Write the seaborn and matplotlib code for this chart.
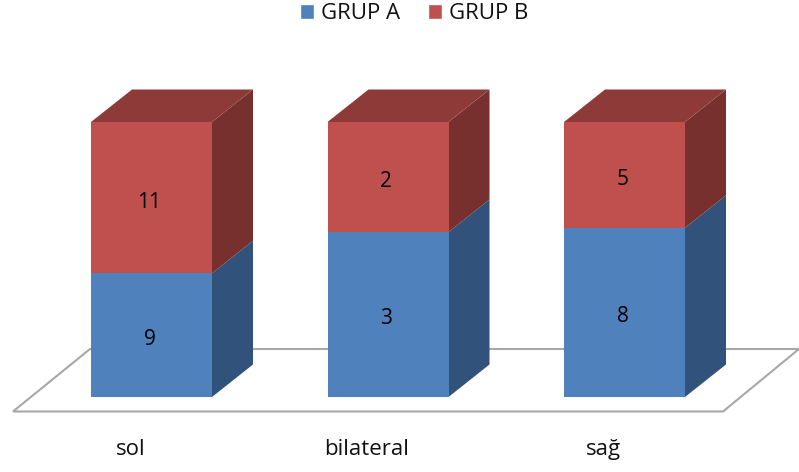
import matplotlib
matplotlib.use("Agg")
import matplotlib.pyplot as plt
from matplotlib.patches import Polygon, Patch
import numpy as np
import seaborn as sns

categories = ["sol", "bilateral", "sağ"]
grup_a = [9, 3, 8]
grup_b = [11, 2, 5]

BLUE, BLUE_SIDE = "#4F81BD", "#31527A"
RED, RED_SIDE, RED_TOP = "#C0504D", "#77302E", "#8E3A38"
FLOOR = "#A8A8A8"

sns.set_theme(style="white")
plt.rcParams["font.family"] = ["Open Sans", "DejaVu Sans"]

W, H = 799, 472
fig = plt.figure(figsize=(W / 100, H / 100), dpi=100)
ax = fig.add_axes([0, 0, 1, 1])

a = np.array(grup_a, dtype=float)
b = np.array(grup_b, dtype=float)
share_a = a / (a + b)
full = np.ones_like(share_a)

# Scale: one category step is 236.5 px, the full 100% column is 275 px
step, unit = 236.5, 275.0
bar_w = 121 / step
dx, dy = 41 / step, 32.5 / unit

# Stacked columns: the full column in red, the group A share over it
sns.barplot(x=categories, y=full, color=RED, saturation=1, width=bar_w, ax=ax,
            zorder=3, linewidth=0, edgecolor="none")
sns.barplot(x=categories, y=share_a, color=BLUE, saturation=1, width=bar_w, ax=ax,
            zorder=4, linewidth=0, edgecolor="none")

ax.set_xlim(-151.5 / step, (W - 151.5) / step)
ax.set_ylim(-(H - 397) / unit, 397 / unit)

label_drop = 4.5 / unit

# Receding side and top faces of each column
for i, s in enumerate(share_a):
    r = i + bar_w / 2
    l = i - bar_w / 2
    ax.add_patch(Polygon([(r, 0), (r + dx, dy), (r + dx, s + dy), (r, s)],
                         fc=BLUE_SIDE, ec="none", zorder=2))
    ax.add_patch(Polygon([(r, s), (r + dx, s + dy), (r + dx, 1 + dy), (r, 1)],
                         fc=RED_SIDE, ec="none", zorder=2))
    ax.add_patch(Polygon([(l, 1), (r, 1), (r + dx, 1 + dy), (l + dx, 1 + dy)],
                         fc=RED_TOP, ec="none", zorder=2))
    ax.text(i - 2 / step, s / 2 - label_drop, f"{grup_a[i]}", ha="center", va="center",
            fontsize=15, color="black", zorder=5)
    ax.text(i - 2 / step, s + (1 - s) / 2 - label_drop, f"{grup_b[i]}", ha="center", va="center",
            fontsize=15, color="black", zorder=5)

# Floor plane under the columns
fx = lambda px: (px - 151.5) / step
fy = lambda py: (397 - py) / unit
floor = [(fx(13), fy(411.5)), (fx(723), fy(411.5)), (fx(799), fy(349)), (fx(90), fy(349))]
ax.add_patch(Polygon(floor, closed=True, fc="white", ec=FLOOR, lw=1.5, zorder=1))

# Category labels sit left of their columns
ax.set_xticks(np.arange(len(categories)) - 21 / step)
ax.set_xticklabels(categories, fontsize=16, color="#111111")
ax.tick_params(axis="x", length=0, pad=-24)
ax.set_yticks([])
ax.set_xlabel("")
ax.set_ylabel("")
sns.despine(ax=ax, left=True, bottom=True)

handles = [Patch(fc=BLUE, label="GRUP A"), Patch(fc=RED, label="GRUP B")]
ax.legend(handles=handles, ncols=2, loc="upper center", bbox_to_anchor=(414 / W, 1.035),
          frameon=False, fontsize=16, handlelength=0.63, handleheight=0.63,
          handletextpad=0.32, columnspacing=1.26, labelcolor="#111111")

fig.savefig("out.png", dpi=100)
